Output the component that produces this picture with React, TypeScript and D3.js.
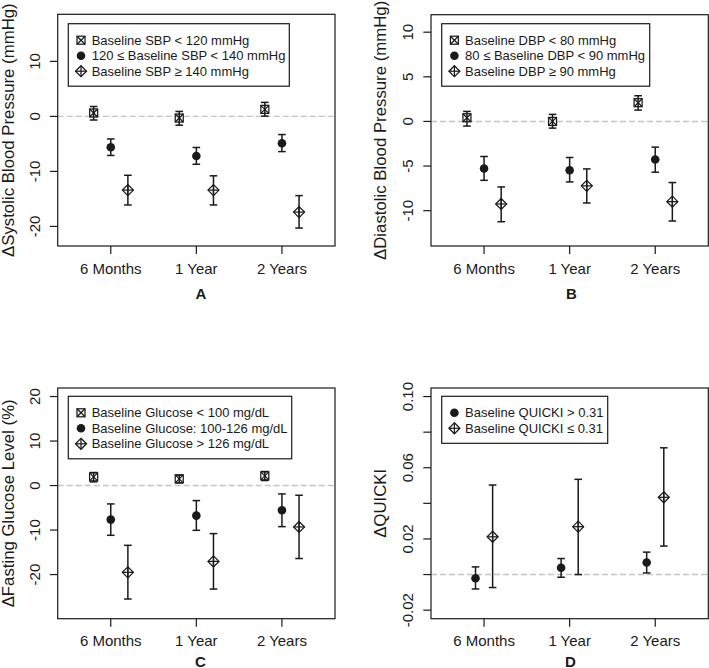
import React from "react";
import * as d3 from "d3";

// ---------- data ----------
const categories = ["6 Months", "1 Year", "2 Years"];

// Panel A – systolic BP
const sbpLabels = ["Baseline SBP < 120 mmHg", "120 ≤ Baseline SBP < 140 mmHg", "Baseline SBP ≥ 140 mmHg"];
const sbpLowMean = [0.62, -0.3, 1.28];
const sbpLowLo = [-0.66, -1.6, 0.05];
const sbpLowHi = [1.8, 0.9, 2.55];
const sbpMidMean = [-5.6, -7.2, -4.87];
const sbpMidLo = [-7.1, -8.7, -6.4];
const sbpMidHi = [-4.1, -5.65, -3.3];
const sbpHighMean = [-13.4, -13.4, -17.4];
const sbpHighLo = [-16.1, -16.1, -20.3];
const sbpHighHi = [-10.7, -10.8, -14.4];
const sbpTicks = [-20, -10, 0, 10];

// Panel B – diastolic BP
const dbpLabels = ["Baseline DBP < 80 mmHg", "80 ≤ Baseline DBP < 90 mmHg", "Baseline DBP ≥ 90 mmHg"];
const dbpLowMean = [0.41, 0.0, 2.1];
const dbpLowLo = [-0.52, -0.75, 1.27];
const dbpLowHi = [1.12, 0.79, 2.88];
const dbpMidMean = [-5.28, -5.47, -4.27];
const dbpMidLo = [-6.6, -6.78, -5.69];
const dbpMidHi = [-3.93, -4.04, -2.88];
const dbpHighMean = [-9.25, -7.22, -8.99];
const dbpHighLo = [-11.24, -9.14, -11.16];
const dbpHighHi = [-7.34, -5.32, -6.85];
const dbpTicks = [-10, -5, 0, 5, 10];

// Panel C – fasting glucose
const gluLabels = ["Baseline Glucose < 100 mg/dL", "Baseline Glucose: 100-126 mg/dL", "Baseline Glucose > 126 mg/dL"];
const gluLowMean = [1.95, 1.5, 2.18];
const gluLowLo = [0.83, 0.6, 1.13];
const gluLowHi = [2.93, 2.33, 3.15];
const gluMidMean = [-7.65, -6.75, -5.55];
const gluMidLo = [-11.18, -10.06, -9.23];
const gluMidHi = [-4.13, -3.38, -1.88];
const gluHighMean = [-19.5, -17.04, -9.3];
const gluHighLo = [-25.5, -23.26, -16.4];
const gluHighHi = [-13.43, -10.8, -2.18];
const gluTicks = [-20, -10, 0, 10, 20];

// Panel D – QUICKI
const qLabels = ["Baseline QUICKI > 0.31", "Baseline QUICKI ≤ 0.31"];
const qHighMean = [-0.0021, 0.0038, 0.0068];
const qHighLo = [-0.0081, -0.0015, 0.0009];
const qHighHi = [0.0043, 0.009, 0.0126];
const qLowMean = [0.0212, 0.0269, 0.0434];
const qLowLo = [-0.0073, 0.0, 0.016];
const qLowHi = [0.0503, 0.0535, 0.0712];
const qTicks = [-0.02, 0.0, 0.02, 0.04, 0.06, 0.08, 0.1];
const qTickLabels = ["-0.02", "", "0.02", "", "0.06", "", "0.10"];

// ---------- styling ----------
const FONT = "'Liberation Sans', Arial, Helvetica, sans-serif";
const INK = "#1a1a1a";

type Sym = "squareX" | "circle" | "diamondPlus";
type Series = { label: string; sym: Sym; offset: number; mean: number[]; lo: number[]; hi: number[] };
type Panel = {
  letter: string;
  yLabel: string;
  box: { l: number; r: number; t: number; b: number };
  yDomain: [number, number];
  ticks: number[];
  tickLabels: string[];
  series: Series[];
  legend: { x: number; y: number; w: number };
  letterPos: { x: number; y: number };
  yLabelX: number;
};

const mk = (labels: string[], syms: Sym[], offs: number[], arr: number[][][]): Series[] =>
  labels.map((label, i) => ({ label, sym: syms[i], offset: offs[i], mean: arr[i][0], lo: arr[i][1], hi: arr[i][2] }));

const three: Sym[] = ["squareX", "circle", "diamondPlus"];
const threeOff = [-0.2, 0, 0.2];

const panels: Panel[] = [
  {
    letter: "A",
    yLabel: "ΔSystolic Blood Pressure (mmHg)",
    box: { l: 57.7, r: 335, t: 14.3, b: 246 },
    yDomain: [-23.56, 18.56],
    ticks: sbpTicks,
    tickLabels: sbpTicks.map(String),
    series: mk(sbpLabels, three, threeOff, [
      [sbpLowMean, sbpLowLo, sbpLowHi],
      [sbpMidMean, sbpMidLo, sbpMidHi],
      [sbpHighMean, sbpHighLo, sbpHighHi],
    ]),
    legend: { x: 68.3, y: 23.7, w: 221 },
    letterPos: { x: 201, y: 298.5 },
    yLabelX: 14,
  },
  {
    letter: "B",
    yLabel: "ΔDiastolic Blood Pressure (mmHg)",
    box: { l: 431, r: 708.3, t: 14.7, b: 246 },
    yDomain: [-13.96, 11.96],
    ticks: dbpTicks,
    tickLabels: dbpTicks.map(String),
    series: mk(dbpLabels, three, threeOff, [
      [dbpLowMean, dbpLowLo, dbpLowHi],
      [dbpMidMean, dbpMidLo, dbpMidHi],
      [dbpHighMean, dbpHighLo, dbpHighHi],
    ]),
    legend: { x: 441.7, y: 23.7, w: 208 },
    letterPos: { x: 571.5, y: 298.5 },
    yLabelX: 386,
  },
  {
    letter: "C",
    yLabel: "ΔFasting Glucose Level (%)",
    box: { l: 57.7, r: 335, t: 388, b: 618.7 },
    yDomain: [-29.92, 21.92],
    ticks: gluTicks,
    tickLabels: gluTicks.map(String),
    series: mk(gluLabels, three, threeOff, [
      [gluLowMean, gluLowLo, gluLowHi],
      [gluMidMean, gluMidLo, gluMidHi],
      [gluHighMean, gluHighLo, gluHighHi],
    ]),
    legend: { x: 68.3, y: 396.3, w: 223.4 },
    letterPos: { x: 200.5, y: 666.5 },
    yLabelX: 14,
  },
  {
    letter: "D",
    yLabel: "ΔQUICKI",
    box: { l: 431, r: 708.3, t: 388, b: 618.7 },
    yDomain: [-0.0248, 0.1048],
    ticks: qTicks,
    tickLabels: qTickLabels,
    series: mk(qLabels, ["circle", "diamondPlus"], [-0.1, 0.1], [
      [qHighMean, qHighLo, qHighHi],
      [qLowMean, qLowLo, qLowHi],
    ]),
    legend: { x: 441.7, y: 396.3, w: 166 },
    letterPos: { x: 570.5, y: 666.5 },
    yLabelX: 386,
  },
];

function Symbol({ sym, x, y }: { sym: Sym; x: number; y: number }) {
  if (sym === "circle") return <circle cx={x} cy={y} r={4.3} fill={INK} />;
  if (sym === "squareX") {
    const h = 4;
    return (
      <g stroke={INK} strokeWidth={1.25} fill="none">
        <rect x={x - h} y={y - h} width={2 * h} height={2 * h} />
        <line x1={x - h} y1={y - h} x2={x + h} y2={y + h} />
        <line x1={x - h} y1={y + h} x2={x + h} y2={y - h} />
      </g>
    );
  }
  const h = 5.5;
  return (
    <g stroke={INK} strokeWidth={1.25} fill="none">
      <path d={`M${x},${y - h}L${x + h},${y}L${x},${y + h}L${x - h},${y}Z`} />
      <line x1={x - h} y1={y} x2={x + h} y2={y} />
      <line x1={x} y1={y - h} x2={x} y2={y + h} />
    </g>
  );
}

function PanelView({ p }: { p: Panel }) {
  const { box } = p;
  const x = d3.scaleLinear().domain([0.38, 3.62]).range([box.l, box.r]);
  const y = d3.scaleLinear().domain(p.yDomain).range([box.b, box.t]);
  const cy = (box.t + box.b) / 2;
  const cap = 3.8;
  return (
    <g fontFamily={FONT} fill={INK}>
      {/* zero reference line */}
      <line x1={box.l} x2={box.r} y1={y(0)} y2={y(0)} stroke="#c4c4c4" strokeWidth={1.4} strokeDasharray="6,3" />
      {/* plot box */}
      <rect x={box.l} y={box.t} width={box.r - box.l} height={box.b - box.t} fill="none" stroke={INK} strokeWidth={1.2} />
      {/* y axis */}
      {p.ticks.map((t, i) => (
        <g key={"yt" + i}>
          <line x1={box.l - 7.7} x2={box.l} y1={y(t)} y2={y(t)} stroke={INK} strokeWidth={1.2} />
          {p.tickLabels[i] && (
            <text transform={`translate(${box.l - 17.7},${y(t)}) rotate(-90)`} textAnchor="middle" fontSize={15}>
              {p.tickLabels[i]}
            </text>
          )}
        </g>
      ))}
      <text transform={`translate(${p.yLabelX},${cy}) rotate(-90)`} textAnchor="middle" fontSize={16.8}>
        {p.yLabel}
      </text>
      {/* x axis */}
      {categories.map((c, i) => (
        <g key={"xt" + i}>
          <line x1={x(i + 1)} x2={x(i + 1)} y1={box.b} y2={box.b + 8} stroke={INK} strokeWidth={1.2} />
          <text x={x(i + 1)} y={box.b + 27.5} textAnchor="middle" fontSize={15}>
            {c}
          </text>
        </g>
      ))}
      <text x={p.letterPos.x} y={p.letterPos.y} textAnchor="middle" fontSize={15} fontWeight="bold">
        {p.letter}
      </text>
      {/* error bars + points */}
      {p.series.map((s, si) =>
        categories.map((_, i) => {
          const px = x(i + 1 + s.offset);
          return (
            <g key={`e${si}-${i}`}>
              <g stroke={INK} strokeWidth={1.5}>
                <line x1={px} x2={px} y1={y(s.lo[i])} y2={y(s.hi[i])} />
                <line x1={px - cap} x2={px + cap} y1={y(s.lo[i])} y2={y(s.lo[i])} />
                <line x1={px - cap} x2={px + cap} y1={y(s.hi[i])} y2={y(s.hi[i])} />
              </g>
              <Symbol sym={s.sym} x={px} y={y(s.mean[i])} />
            </g>
          );
        })
      )}
      {/* legend */}
      <g>
        <rect
          x={p.legend.x}
          y={p.legend.y}
          width={p.legend.w}
          height={16 + p.series.length * 15.5}
          fill="white"
          stroke={INK}
          strokeWidth={1.2}
        />
        {p.series.map((s, si) => {
          const ry = p.legend.y + 16.5 + si * 15.5;
          return (
            <g key={"lg" + si}>
              <Symbol sym={s.sym} x={p.legend.x + 12.7} y={ry} />
              <text x={p.legend.x + 23.4} y={ry + 4.6} fontSize={13}>
                {s.label}
              </text>
            </g>
          );
        })}
      </g>
    </g>
  );
}

export default function App() {
  return (
    <div style={{ position: "absolute", left: 0, top: 0 }}>
      <svg width={709} height={668} style={{ display: "block", background: "white" }}>
        {panels.map((p) => (
          <PanelView key={p.letter} p={p} />
        ))}
      </svg>
    </div>
  );
}
